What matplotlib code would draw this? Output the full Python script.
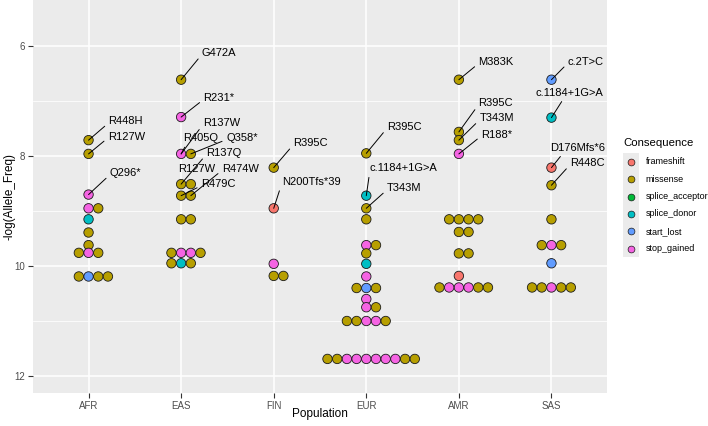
import matplotlib
matplotlib.use("Agg")
import matplotlib.pyplot as plt
from matplotlib.patches import Rectangle

plt.rcParams['font.family'] = ['Liberation Sans', 'DejaVu Sans']

# ---- data ----
populations = ["AFR", "EAS", "FIN", "EUR", "AMR", "SAS"]
consequences = ["frameshift", "missense", "splice_acceptor", "splice_donor", "start_lost", "stop_gained"]
colors = {"frameshift": "#F8766D", "missense": "#B79F00", "splice_acceptor": "#00BA38",
          "splice_donor": "#00BFC4", "start_lost": "#619CFF", "stop_gained": "#F564E3"}

MIS, STOP, FS, DON, SL = "missense", "stop_gained", "frameshift", "splice_donor", "start_lost"

afr_y = [7.71, 7.96, 8.70, 8.95, 8.95, 9.15, 9.39, 9.62, 9.76, 9.76, 9.76, 10.19, 10.19, 10.19, 10.19]
afr_c = [MIS, MIS, STOP, STOP, MIS, DON, MIS, MIS, STOP, MIS, MIS, SL, MIS, MIS, MIS]

eas_y = [6.61, 7.29, 7.96, 7.96, 8.51, 8.51, 8.72, 8.72, 9.15, 9.15, 9.76, 9.76, 9.76, 9.76, 9.95, 9.95, 9.95]
eas_c = [MIS, STOP, STOP, MIS, MIS, MIS, MIS, MIS, MIS, MIS, STOP, STOP, MIS, MIS, DON, MIS, MIS]

fin_y = [8.21, 8.95, 9.96, 10.18, 10.18]
fin_c = [MIS, FS, STOP, MIS, MIS]

eur_y = [7.95, 8.72, 8.95, 9.15, 9.62, 9.62, 9.77, 9.96, 10.19, 10.40, 10.40, 10.40, 10.60, 10.75, 10.75,
         11.00, 11.00, 11.00, 11.00, 11.00,
         11.69, 11.69, 11.69, 11.69, 11.69, 11.69, 11.69, 11.69, 11.69, 11.69]
eur_c = [MIS, DON, MIS, MIS, STOP, MIS, MIS, DON, STOP, SL, MIS, MIS, STOP, STOP, MIS,
         STOP, STOP, MIS, MIS, MIS,
         STOP, STOP, STOP, STOP, STOP, STOP, MIS, MIS, MIS, MIS]

amr_y = [6.61, 7.56, 7.71, 7.96, 9.15, 9.15, 9.15, 9.15, 9.38, 9.38, 9.77, 9.77, 10.18,
         10.39, 10.39, 10.39, 10.39, 10.39, 10.39]
amr_c = [MIS, MIS, MIS, STOP, MIS, MIS, MIS, MIS, MIS, MIS, MIS, MIS, FS,
         STOP, STOP, STOP, MIS, MIS, MIS]

sas_y = [6.61, 7.30, 8.21, 8.53, 9.15, 9.62, 9.62, 9.62, 9.95, 10.39, 10.39, 10.39, 10.39, 10.39]
sas_c = [SL, DON, FS, MIS, MIS, STOP, MIS, MIS, SL, STOP, MIS, MIS, MIS, MIS]

pop_y = [afr_y, eas_y, fin_y, eur_y, amr_y, sas_y]
pop_c = [afr_c, eas_c, fin_c, eur_c, amr_c, sas_c]

# labels: population, point index, text
label_pop = ["AFR", "AFR", "AFR",
             "EAS", "EAS", "EAS", "EAS", "EAS", "EAS", "EAS", "EAS", "EAS",
             "FIN", "FIN",
             "EUR", "EUR", "EUR",
             "AMR", "AMR", "AMR", "AMR",
             "SAS", "SAS", "SAS", "SAS"]
label_idx = [0, 1, 2,
             0, 1, 2, 2, 3, 4, 4, 7, 6,
             0, 1,
             0, 1, 2,
             0, 1, 2, 3,
             0, 1, 2, 3]
label_txt = ["R448H", "R127W", "Q296*",
             "G472A", "R231*", "R137W", "R405Q", "Q358*", "R137Q", "R127W", "R474W", "R479C",
             "R395C", "N200Tfs*39",
             "R395C", "c.1184+1G>A", "T343M",
             "M383K", "R395C", "T343M", "R188*",
             "c.2T>C", "c.1184+1G>A", "D176Mfs*6", "R448C"]

# label placement (pixel offsets of text left edge from point, screen-down positive) and line anchor
label_off = [(20, -17.7), (19.3, -16.4), (21.3, -20.3),
             (20.7, -25.7), (22.3, -18), (21.7, -29.7), (2.3, -14.7), (35.3, -14.7), (25, -30),
             (-3.3, -14.3), (31, -25.7), (20, -10.4),
             (19.6, -23.4), (8, -25.6),
             (20.7, -25.6), (3.3, -26.4), (20.7, -19),
             (19.6, -16.6), (19.6, -27.7), (20.6, -20.7), (22.3, -18.4),
             (16.3, -17), (-15.7, -24), (-1.7, -19), (18.6, -21)]
label_rel = [(0, 0.35)] * len(label_txt)
label_rel[6] = (0.1, 0)
label_rel[9] = None
label_rel[13] = (0, 0.3)
label_rel[15] = (0, 0.05)
label_rel[22] = (0.42, 0)
label_rel[23] = (0.25, 0)

# ---- figure ----
W, H = 708, 426
fig = plt.figure(figsize=(W / 100, H / 100), dpi=100)
ax = fig.add_axes([33 / W, 33 / H, 574 / W, 393 / H])
ax.set_facecolor("#EBEBEB")
for s in ax.spines.values():
    s.set_visible(False)

ylo, yhi = 5.16, 12.31
ax.set_xlim(0.4, 6.6)
ax.set_ylim(yhi, ylo)
xpx = 574 / 6.2
ypx = 393 / (yhi - ylo)
dot_px = 9.7
step = dot_px / xpx


def swarm_offsets(ys):
    placed = []
    out = []
    for y in ys:
        k_try = [0]
        for n in range(1, 20):
            k_try += [n, -n]
        for k in k_try:
            if all(not (kk == k and abs(yy - y) * ypx < 5) for yy, kk in placed):
                break
        placed.append((y, k))
        out.append(k)
    return out


xs_all = {}
for i, (ys, cs) in enumerate(zip(pop_y, pop_c)):
    ks = swarm_offsets(ys)
    xs = [i + 1 + k * step for k in ks]
    xs_all[populations[i]] = xs
    ax.scatter(xs, ys, s=46, c=[colors[c] for c in cs], edgecolors="#1a1a1a",
               linewidths=0.6, zorder=3)

ax.set_xticks(range(1, 7))
ax.set_xticklabels(populations)
ax.set_yticks([6, 8, 10, 12])
ax.set_yticks([7, 9, 11], minor=True)
ax.grid(which="major", color="white", lw=1.1)
ax.grid(which="minor", axis="y", color="white", lw=0.55)
ax.set_axisbelow(True)
ax.tick_params(which="major", length=3.7, width=0.8, color="#333333", labelsize=7,
               labelcolor="#4D4D4D", pad=2)
ax.tick_params(which="minor", length=0)

for p, idx, txt, off, rel in zip(label_pop, label_idx, label_txt, label_off, label_rel):
    pi = populations.index(p)
    px, py = xs_all[p][idx], pop_y[pi][idx]
    kw = dict(textcoords="offset pixels", ha="left", va="center", fontsize=8, color="black", zorder=5)
    if rel is not None:
        kw["arrowprops"] = dict(arrowstyle="-", lw=0.7, color="black", relpos=rel,
                                shrinkA=1, shrinkB=0)
    ax.annotate(txt, (px, py), xytext=(off[0], -off[1] + 1), **kw)

fig.text(320 / W, 1 - 414 / H, "Population", ha="center", va="center", fontsize=8.5)
fig.text(10 / W, 1 - 196.5 / H, "-log(Allele_Freq)", ha="center", va="center",
         rotation=90, fontsize=8.5)

# legend
lax = fig.add_axes([0, 0, 1, 1])
lax.set_xlim(0, W)
lax.set_ylim(H, 0)
lax.axis("off")
lax.patch.set_alpha(0)
lax.text(623.3, 143.3, "Consequence", ha="left", va="center", fontsize=8.2)
lax.add_patch(Rectangle((623.3, 153), 16, 103.7, color="#EBEBEB", lw=0))
for j, c in enumerate(consequences):
    yk = 161.7 + j * 17.4
    lax.scatter([631.3], [yk], s=24, c=colors[c], edgecolors="#1a1a1a", linewidths=0.5, zorder=3)
    lax.text(645.7, yk, c, ha="left", va="center", fontsize=6.5)

fig.savefig("out.png", dpi=100)
